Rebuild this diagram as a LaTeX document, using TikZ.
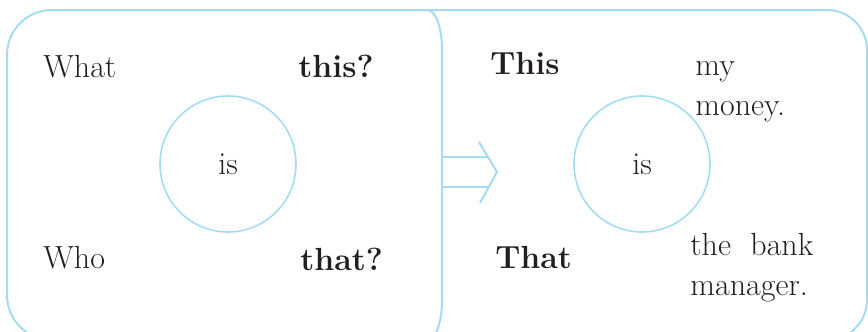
\documentclass[tikz,border=0pt]{standalone}
\usepackage{tikz}
\definecolor{boxblue}{RGB}{164,220,244}
\definecolor{inkgrey}{RGB}{35,31,32}
\tikzset{%
  frame/.style={draw=boxblue, line width=1pt},
  word/.style={anchor=base west, inner sep=0pt, text=inkgrey,
               font=\fontsize{16}{20}\selectfont},
  keyword/.style={word, font=\fontsize{16}{20}\selectfont\bfseries},
  verbring/.style={circle, draw=boxblue, line width=0.8pt, minimum size=68pt,
                   inner sep=0pt, text=inkgrey, font=\fontsize{16}{20}\selectfont},
}

\begin{document}
\begin{tikzpicture}[x=0.5pt, y=-0.5pt]

% Page frame (the boxes run past the bottom edge)
\clip (0,0) rectangle (868,332);

% Answer box at the back
\draw[frame, rounded corners=20pt] (300,10) -- (867,10) -- (867,340) -- (300,340);

% Question box in front of it
\draw[frame, fill=white] (427,10) .. controls (436,10) and (442,28) .. (442,50)
  -- (442,300) .. controls (442,322) and (436,340) .. (427,340)
  -- (52,340) .. controls (27,340) and (7,320) .. (7,295)
  -- (7,55) .. controls (7,30) and (27,10) .. (52,10) -- cycle;

% Questions
\node[verbring] (qverb) at (228,164) {is};
\node[word] (qwhat) at (43,77) {What};
\node[keyword] (qthis) at (298,77) {this?};
\node[word] (qwho) at (43,268) {Who};
\node[keyword] (qthat) at (300,270) {that?};

% Double arrow between the boxes
\draw[frame] (442,157) -- (488,157);
\draw[frame] (442,187) -- (489,187);
\draw[frame] (479,142) -- (497,172) -- (480,203);

% Answers
\node[verbring] (averb) at (642,164) {is};
\node[keyword] (athis) at (490,75) {This};
\node[keyword] (athat) at (495,268) {That};
\node[word, align=left] (amoney) at (695,115) {my\\money.};
\node[word, align=left] (amanager) at (690,295) {the\ \ bank\\manager.};

\end{tikzpicture}
\end{document}
